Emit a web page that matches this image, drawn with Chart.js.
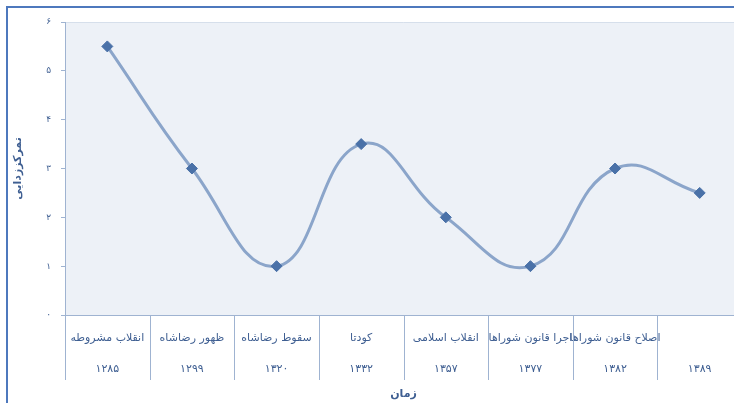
<!DOCTYPE html>
<html>
<head>
<meta charset="utf-8">
<script src="https://cdn.jsdelivr.net/npm/chart.js@4"></script>
<style>
  html, body { margin: 0; padding: 0; background: #fff; overflow: hidden; }
  #wrap { position: absolute; left: 0; top: 0; width: 752px; height: 403px; }
</style>
</head>
<body>
<div id="wrap"><canvas id="chart" width="752" height="403"></canvas></div>
<script>
// رویدادها و سال‌ها
const events = ['انقلاب مشروطه', 'ظهور رضاشاه', 'سقوط رضاشاه', 'کودتا', 'انقلاب اسلامی', 'اجرا قانون شوراها', 'اصلاح قانون شوراها', ''];
const years = ['۱۲۸۵', '۱۲۹۹', '۱۳۲۰', '۱۳۳۲', '۱۳۵۷', '۱۳۷۷', '۱۳۸۲', '۱۳۸۹'];
const values = [5.5, 3, 1, 3.5, 2, 1, 3, 2.5];
const yTicks = ['۰', '۱', '۲', '۳', '۴', '۵', '۶'];

const textColor = '#3f5f92';
const axisColor = '#9fb3d1';
const fontFamily = '"DejaVu Sans", sans-serif';

const framePlugin = {
    id: 'frame',
    beforeDraw(chart) {
        const { ctx, chartArea: a } = chart;
        ctx.save();
        ctx.fillStyle = '#edf1f7';
        ctx.fillRect(a.left, a.top, a.right - a.left, a.bottom - a.top);
        ctx.strokeStyle = '#d6dfeb';
        ctx.lineWidth = 1;
        ctx.beginPath();
        ctx.moveTo(a.left, a.top + 0.5);
        ctx.lineTo(a.right, a.top + 0.5);
        ctx.stroke();
        ctx.restore();
    },
    afterDraw(chart) {
        const { ctx, chartArea: a } = chart;
        const x = chart.scales.x;
        ctx.save();
        // category dividers under the axis
        ctx.strokeStyle = axisColor;
        ctx.lineWidth = 1;
        for (let i = 0; i <= events.length; i++) {
            const px = Math.round(x.getPixelForValue(i - 0.5)) + 0.5;
            ctx.beginPath();
            ctx.moveTo(px, a.bottom);
            ctx.lineTo(px, a.bottom + 65);
            ctx.stroke();
        }
        // outer frame
        ctx.strokeStyle = '#4d78bd';
        ctx.lineWidth = 2;
        ctx.beginPath();
        ctx.moveTo(7, 403);
        ctx.lineTo(7, 7);
        ctx.lineTo(752, 7);
        ctx.stroke();
        ctx.restore();
    }
};

new Chart(document.getElementById('chart').getContext('2d'), {
    type: 'line',
    data: {
        labels: events.map((e, i) => [e, years[i]]),
        datasets: [{
            data: values,
            borderColor: '#8ba5ca',
            borderWidth: 3,
            tension: 0.45,
            pointStyle: 'rectRot',
            pointRadius: 5.5,
            pointBackgroundColor: '#4a71a8',
            pointBorderColor: '#4a71a8',
            pointBorderWidth: 1
        }]
    },
    options: {
        responsive: false,
        animation: false,
        layout: { padding: { left: 0, right: 10, top: 22, bottom: 0 } },
        plugins: {
            legend: { display: false },
            tooltip: { enabled: false }
        },
        scales: {
            x: {
                offset: true,
                grid: { display: false },
                border: { color: axisColor, width: 1 },
                ticks: {
                    color: textColor,
                    font: { family: fontFamily, size: 11, lineHeight: 2.8 },
                    padding: 0,
                    maxRotation: 0,
                    autoSkip: false
                },
                title: {
                    display: true,
                    text: 'زمان',
                    color: textColor,
                    font: { family: fontFamily, size: 11, weight: 'bold' },
                    padding: { top: 0, bottom: 2 }
                },
                afterFit(scale) { scale.height = 88; }
            },
            y: {
                min: 0,
                max: 6,
                grid: { drawOnChartArea: false, tickLength: 4, color: axisColor },
                border: { color: axisColor, width: 1 },
                ticks: {
                    stepSize: 1,
                    color: textColor,
                    font: { family: fontFamily, size: 9 },
                    padding: 10,
                    callback: (v) => yTicks[v]
                },
                title: {
                    display: true,
                    text: 'تمرکززدایی',
                    color: textColor,
                    font: { family: fontFamily, size: 11, weight: 'bold' },
                    padding: { top: 12, bottom: 0 }
                },
                afterFit(scale) { scale.width = 65; }
            }
        }
    },
    plugins: [framePlugin]
});
</script>
</body>
</html>
